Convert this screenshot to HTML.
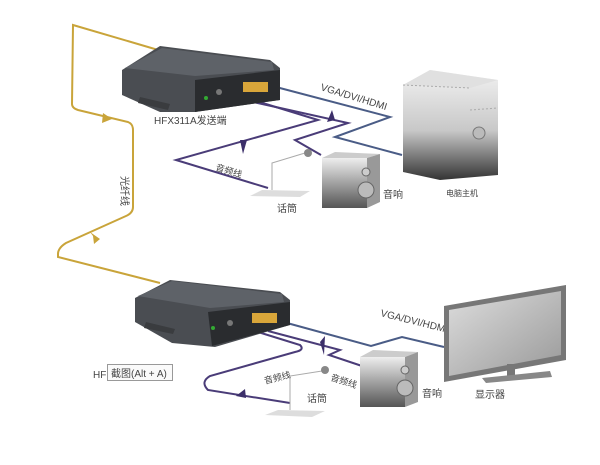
<!DOCTYPE html>
<html><head><meta charset="utf-8"><style>
body{margin:0;background:#fff;width:600px;height:465px;overflow:hidden}
svg{display:block}
text{font-family:"Liberation Sans","Noto Sans CJK SC",sans-serif;fill:#444}
</style></head><body>
<svg width="600" height="465" viewBox="0 0 600 465" xmlns="http://www.w3.org/2000/svg">
<defs>
<linearGradient id="tw" x1="0" y1="0" x2="0" y2="1"><stop offset="0" stop-color="#f2f2f2"/><stop offset=".55" stop-color="#c8c8c8"/><stop offset="1" stop-color="#333"/></linearGradient>
<linearGradient id="sp" x1="0" y1="0" x2="0" y2="1"><stop offset="0" stop-color="#eee"/><stop offset="1" stop-color="#555"/></linearGradient>
<linearGradient id="mn" x1="0" y1="0" x2="1" y2="1"><stop offset="0" stop-color="#ddd"/><stop offset="1" stop-color="#999"/></linearGradient>
</defs>
<!-- fiber -->
<path d="M165,52 L73,25 L72,104 Q72,108 78,110 L128,122 Q133,124 133,130 L133,207 Q133,213 126,216 L66,243 Q58,248 58,254 L58,257 L160,283" fill="none" stroke="#c9a43a" stroke-width="2"/>
<polygon points="103,113 112,119 102,123" fill="#c9a43a"/>
<polygon points="90,232 100,239 94,244 93,236" fill="#c9a43a"/>
<text x="0" y="0" font-size="10" transform="translate(121,176) rotate(90)">光纤线</text>
<!-- top cables -->
<g fill="none" stroke-width="2">
<path d="M276,87 L390,117 L335,137 L402,155" stroke="#4a5c86"/>
<path d="M240,96 L318,120 L176,160 L268,188" stroke="#4a3c78"/>
<path d="M244,100 L348,123 L295,140 L321,155" stroke="#4a3c78"/>
</g>
<polygon points="240,140 243,154 247,140" fill="#3c2f6a"/>
<polygon points="327,122 332,110 335,120" fill="#3c2f6a"/>
<text font-size="10" transform="translate(320,90) rotate(17)">VGA/DVI/HDMI</text>
<text font-size="9" transform="translate(215,170) rotate(17)">音频线</text>
<!-- top device -->
<polygon points="160,46 270,60 280,68 280,100 195,112 160,112 122,95 122,70" fill="#4a4d52"/>
<polygon points="125,68 162,48 272,62 274,70 195,76" fill="#5e6268"/>
<polygon points="195,80 280,70 280,100 195,112" fill="#2a2c2f"/>
<rect x="243" y="82" width="25" height="10" fill="#d9a63a"/>
<circle cx="219" cy="92" r="3" fill="#777"/><circle cx="206" cy="98" r="2" fill="#3a3"/>
<polygon points="140,97 170,104 168,110 138,103" fill="#3a3c3f"/>
<text x="154" y="124" font-size="10" fill="#333">HFX311A发送端</text>
<!-- tower -->
<polygon points="403,85 430,70 498,80 498,175 440,180 403,172" fill="url(#tw)"/>
<polygon points="403,85 430,70 498,80 470,88" fill="#e0e0e0"/>
<line x1="403" y1="85" x2="470" y2="88" stroke="#aaa" stroke-dasharray="2,2"/>
<line x1="470" y1="110" x2="498" y2="108" stroke="#aaa" stroke-dasharray="2,2"/>
<circle cx="479" cy="133" r="6" fill="#bbb" stroke="#777"/>
<text x="446" y="196" font-size="8" fill="#333">电脑主机</text>
<!-- top speaker -->
<rect x="322" y="158" width="45" height="50" fill="url(#sp)"/>
<polygon points="322,158 335,152 380,154 367,158" fill="#ccc"/>
<polygon points="367,158 380,154 380,202 367,208" fill="#999"/>
<circle cx="366" cy="172" r="4" fill="#ccc" stroke="#666"/>
<circle cx="366" cy="190" r="8" fill="#bbb" stroke="#666"/>
<text x="383" y="198" font-size="10">音响</text>
<!-- top mic -->
<path d="M272,190 L272,163 L305,153" fill="none" stroke="#aaa"/>
<circle cx="308" cy="153" r="4" fill="#888"/>
<polygon points="250,196 262,190 310,191 300,197" fill="#ddd"/>
<text x="277" y="212" font-size="10">话筒</text>
<!-- bottom cables -->
<g fill="none" stroke-width="2">
<path d="M287,323 L371,346 L402,337 L444,347" stroke="#4a5c86"/>
<path d="M258,332 L300,345 Q305,350 295,352 L210,376 Q200,382 208,390 L290,403" stroke="#4a3c78"/>
<path d="M268,331 L340,350 L329,355 L362,366" stroke="#4a3c78"/>
</g>
<polygon points="320,342 325,336 324,355" fill="#3c2f6a"/>
<polygon points="236,396 245,389 246,398" fill="#3c2f6a"/>
<text font-size="10" transform="translate(380,316) rotate(14)">VGA/DVI/HDMI</text>
<text font-size="9" transform="translate(265,384) rotate(-14)">音频线</text>
<text font-size="9" transform="translate(330,380) rotate(18)">音频线</text>
<!-- bottom device -->
<polygon points="170,280 280,292 290,300 290,325 215,347 172,343 135,322 135,298" fill="#4a4d52"/>
<polygon points="138,296 172,281 282,294 284,302 210,308" fill="#5e6268"/>
<polygon points="208,312 290,302 290,325 212,346" fill="#2a2c2f"/>
<rect x="252" y="313" width="25" height="10" fill="#d9a63a"/>
<circle cx="230" cy="323" r="3" fill="#777"/><circle cx="213" cy="328" r="2" fill="#3a3"/>
<polygon points="146,322 175,329 173,334 144,328" fill="#3a3c3f"/>
<text x="93" y="378" font-size="10" fill="#666">HF</text>
<rect x="107.5" y="364.5" width="65" height="16" fill="#fafafa" stroke="#999"/>
<text x="111" y="377" font-size="10" fill="#333">截图(Alt + A)</text>
<!-- bottom mic -->
<path d="M290,410 L290,376 L322,371" fill="none" stroke="#aaa"/>
<circle cx="325" cy="370" r="4" fill="#888"/>
<polygon points="265,415 278,410 325,411 312,417" fill="#ddd"/>
<text x="307" y="402" font-size="10">话筒</text>
<!-- bottom speaker -->
<rect x="360" y="357" width="45" height="50" fill="url(#sp)"/>
<polygon points="360,357 373,350 418,352 405,357" fill="#ccc"/>
<polygon points="405,357 418,352 418,402 405,407" fill="#999"/>
<circle cx="405" cy="370" r="4" fill="#ccc" stroke="#666"/>
<circle cx="405" cy="388" r="8" fill="#bbb" stroke="#666"/>
<text x="422" y="397" font-size="10">音响</text>
<!-- monitor -->
<polygon points="444,306 566,285 566,360 444,382" fill="#777"/>
<polygon points="449,310 561,291 561,355 449,376" fill="url(#mn)"/>
<rect x="507" y="364" width="8" height="12" fill="#777"/>
<polygon points="482,378 550,371 552,377 486,383" fill="#888"/>
<text x="475" y="398" font-size="10">显示器</text>
</svg>
</body></html>
